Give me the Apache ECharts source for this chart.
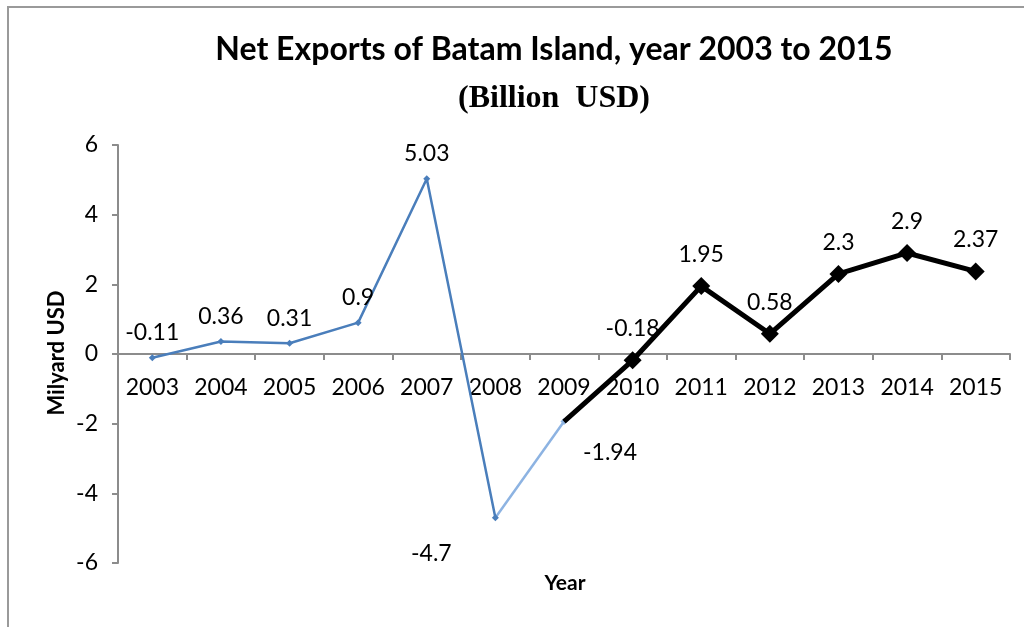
<!DOCTYPE html>
<html>
<head>
<meta charset="utf-8">
<script src="https://cdn.jsdelivr.net/npm/echarts@6/dist/echarts.min.js"></script>
<style>
  html, body { margin: 0; padding: 0; background: #fff; }
  #chart { width: 1024px; height: 627px; }
</style>
</head>
<body>
<div id="chart"></div>
<script>
const years = ['2003', '2004', '2005', '2006', '2007', '2008', '2009', '2010', '2011', '2012', '2013', '2014', '2015'];
const netExports = [-0.11, 0.36, 0.31, 0.9, 5.03, -4.7, -1.94, -0.18, 1.95, 0.58, 2.3, 2.9, 2.37];
const yTicks = [-6, -4, -2, 0, 2, 4, 6];

// segments: blue 2003-2008, light blue 2008-2009, black 2009-2015
const blueEnd = 5;
const blackStart = 6;

const font = 'Lato, "Open Sans", sans-serif';
const gridTop = 145, gridBottom = 64, chartH = 627;

function segment(from, to) {
  return netExports.map((v, i) => (i >= from && i <= to ? v : null));
}

const blueData = segment(0, blueEnd).map((v, i) => {
  if (i === blueEnd) {
    return { value: v, label: { position: 'inside', offset: [-64, 36] } };
  }
  return v;
});

const lightData = segment(blueEnd, blackStart).map((v, i) => {
  if (i === blackStart) return { value: v, symbolSize: 7 };
  if (i === blueEnd) return { value: v, symbolSize: 0 };
  return v;
});

const blackData = segment(blackStart, years.length - 1).map((v, i) => {
  if (i === blackStart) {
    return { value: v, symbolSize: 0, label: { show: true, position: 'inside', offset: [46, 31] } };
  }
  return v;
});

// labels sit just under the zero line, not under the grid bottom
const plotH = chartH - gridTop - gridBottom;
const zeroToBottom = plotH / 2;

const chart = echarts.init(document.getElementById('chart'));
chart.setOption({
  backgroundColor: '#fff',
  animation: false,
  title: [{
    text: 'Net Exports of Batam Island, year 2003 to 2015',
    left: 549,
    textAlign: 'center',
    top: 29,
    textStyle: { fontFamily: font, fontWeight: 'bold', fontSize: 32, color: '#000' }
  }, {
    text: '(Billion  USD)',
    left: 549,
    textAlign: 'center',
    top: 78,
    textStyle: { fontFamily: '"Liberation Serif", serif', fontWeight: 'bold', fontSize: 32, color: '#000' }
  }],
  graphic: [{
    type: 'polyline',
    shape: { points: [[8, 640], [8, 7], [1040, 7]] },
    style: { stroke: '#9a9a9a', lineWidth: 2, fill: null }
  }, {
    type: 'text',
    x: 565,
    y: 583,
    style: { text: 'Year', fontFamily: font, fontWeight: 'bold', fontSize: 21, fill: '#000', align: 'center', verticalAlign: 'middle' }
  }, {
    type: 'text',
    x: 57,
    y: 353,
    rotation: Math.PI / 2,
    style: { text: 'Milyard USD', fontFamily: font, fontWeight: 'bold', fontSize: 22, fill: '#000', align: 'center', verticalAlign: 'middle' }
  }],
  grid: { left: 118, right: 14, top: gridTop, bottom: gridBottom, outerBoundsMode: 'none' },
  xAxis: {
    type: 'category',
    data: years,
    boundaryGap: true,
    axisLine: { onZero: true, lineStyle: { color: '#8c8c8c', width: 2 } },
    axisTick: { show: true, inside: false, length: 6, interval: 0, lineStyle: { color: '#8c8c8c', width: 2 } },
    axisLabel: { interval: 0, margin: 22 - zeroToBottom, fontFamily: font, fontSize: 23, color: '#000' }
  },
  yAxis: {
    type: 'value',
    min: -6,
    max: 6,
    interval: 2,
    splitLine: { show: false },
    axisLine: { show: true, lineStyle: { color: '#8c8c8c', width: 2 } },
    axisTick: { show: true, length: 6, lineStyle: { color: '#8c8c8c', width: 2 } },
    axisLabel: {
      margin: 20,
      fontFamily: font,
      fontSize: 23,
      color: '#000',
      formatter: v => (yTicks.includes(v) ? String(v) : '')
    }
  },
  series: [{
    name: 'blue',
    type: 'line',
    data: blueData,
    symbol: 'diamond',
    symbolSize: 7,
    z: 3,
    lineStyle: { color: '#4a7ebb', width: 2.5 },
    itemStyle: { color: '#4a7ebb' },
    label: { show: true, position: 'top', distance: 10, fontFamily: font, fontSize: 23, color: '#000' }
  }, {
    name: 'lightblue',
    type: 'line',
    data: lightData,
    symbol: 'diamond',
    symbolSize: 7,
    z: 2,
    lineStyle: { color: '#8db3e2', width: 2.5 },
    itemStyle: { color: '#8db3e2' },
    label: { show: false }
  }, {
    name: 'black',
    type: 'line',
    data: blackData,
    symbol: 'diamond',
    symbolSize: 18,
    z: 4,
    lineStyle: { color: '#000', width: 5 },
    itemStyle: { color: '#000' },
    label: { show: true, position: 'top', distance: 11, fontFamily: font, fontSize: 23, color: '#000' }
  }]
});
</script>
</body>
</html>
